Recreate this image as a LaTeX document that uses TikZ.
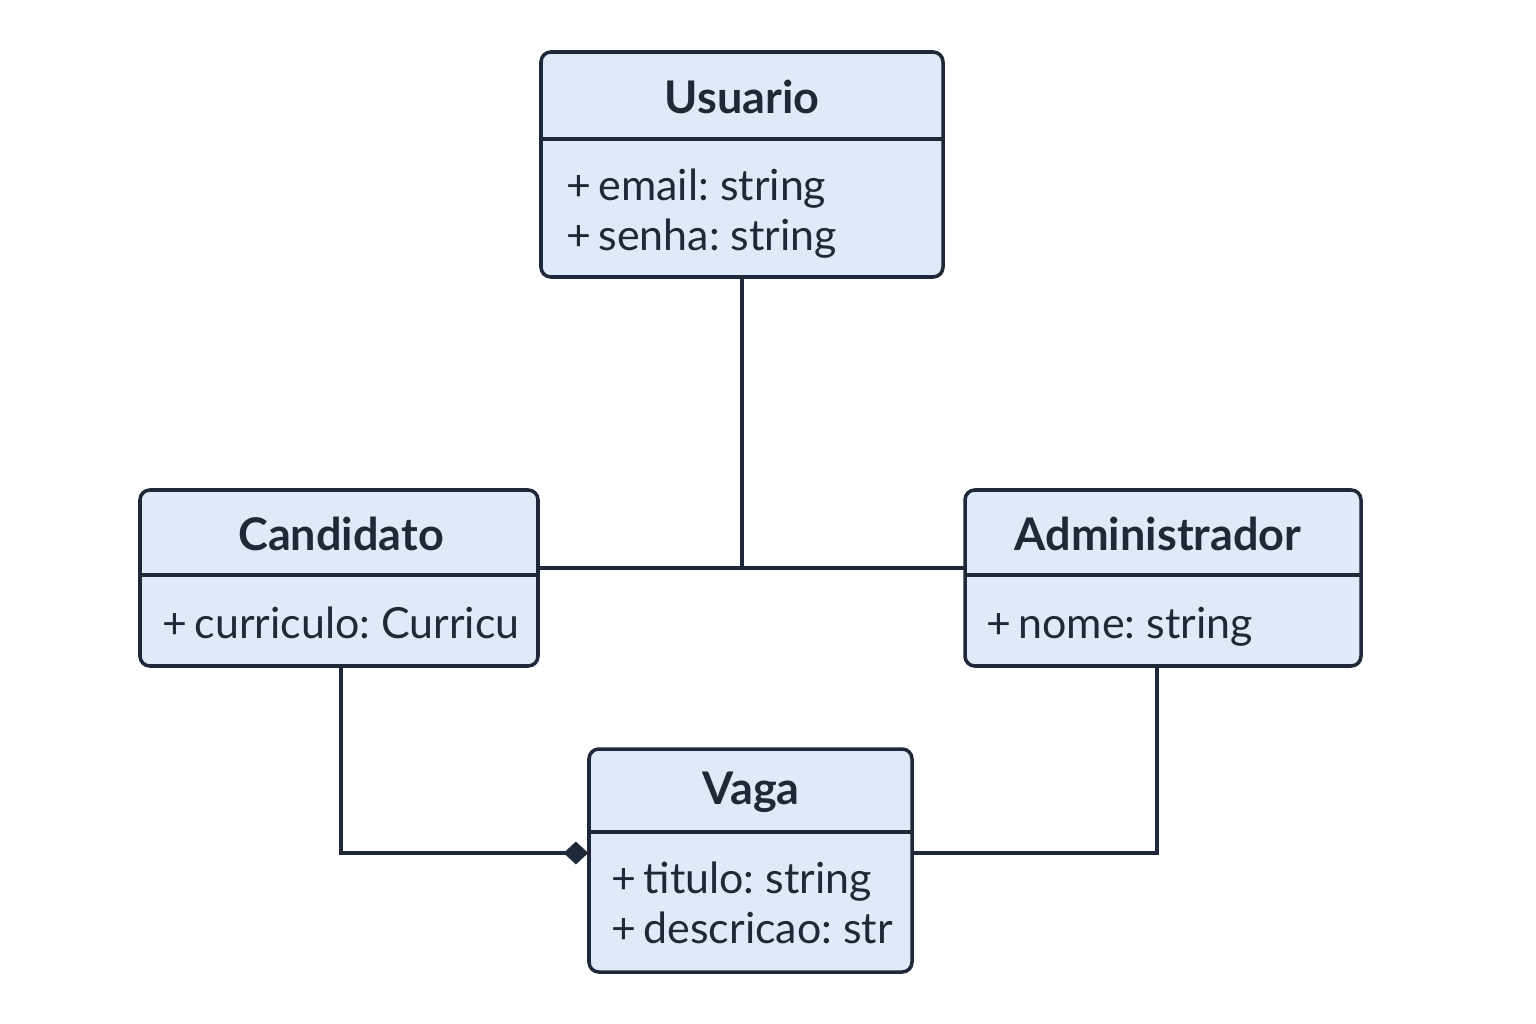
\documentclass[tikz,border=0pt]{standalone}
\usepackage{fontspec}
\setmainfont{Lato}
\usetikzlibrary{arrows.meta}
\definecolor{ink}{HTML}{1E2838}
\definecolor{boxfill}{HTML}{DEEAF9}
\tikzset{
  umlbox/.style={draw=ink, fill=boxfill, line width=1pt, rounded corners=2.8pt, inner sep=0pt},
  title/.style={font=\fontsize{12.8}{14}\selectfont\bfseries, text=ink, inner sep=0pt},
  attr/.style={font=\fontsize{12.2}{14}\selectfont, text=ink, anchor=base west, inner sep=0pt},
  divider/.style={draw=ink, line width=1pt},
  conn/.style={draw=ink, line width=0.95pt},
  comp/.style={-{Diamond[length=7pt,width=6.5pt,fill=ink]}, draw=ink, line width=0.95pt}
}
\begin{document}
\frenchspacing
\begin{tikzpicture}[x=0.01cm,y=-0.01cm]
\useasboundingbox (0,0) rectangle (1536,1024);
% boxes
\path[umlbox] (541,52) rectangle (943,277);
\path[umlbox] (140,490) rectangle (538,666);
\path[umlbox] (965,490) rectangle (1361,666);
\path[umlbox] (589,749) rectangle (912,972);
% named anchors
\node[inner sep=0pt, minimum width=4.02cm, minimum height=2.25cm] (usuario) at (742,164.5) {};
\node[inner sep=0pt, minimum width=3.98cm, minimum height=1.76cm] (candidato) at (339,578) {};
\node[inner sep=0pt, minimum width=3.96cm, minimum height=1.76cm] (admin) at (1163,578) {};
\node[inner sep=0pt, minimum width=3.23cm, minimum height=2.23cm] (vaga) at (750.5,860.5) {};
% dividers
\draw[divider] (541,139) -- (943,139);
\draw[divider] (140,575) -- (538,575);
\draw[divider] (965,575) -- (1361,575);
\draw[divider] (589,832) -- (912,832);
% titles
\node[title] (t1) at (742,97) {Usuario};
\node[title] (t2) at (341,534) {Candidato};
\node[title] (t3) at (1158,534) {Administrador};
\node[title] (t4) at (751,792) {Vaga};
% attributes
\node[attr] (a1) at (566,200) {+\,email: string};
\node[attr] (a2) at (566,250) {+\,senha: string};
\node[attr] (a3) at (162,638) {+\,curriculo: Curricu};
\node[attr] (a4) at (986,638) {+\,nome: string};
\node[attr] (a5) at (611,893) {+\,titulo: string};
\node[attr] (a6) at (611,943) {+\,descricao: str};
% connectors
\coordinate (junction) at (742,568);
\draw[conn] (usuario.south -| junction) -- (junction);
\draw[conn] (candidato.east |- junction) -- (admin.west |- junction);
\coordinate (cbend) at (341,853);
\draw[comp] (candidato.south -| cbend) -- (cbend) -- (vaga.west |- cbend);
\coordinate (abend) at (1157,853);
\draw[conn] (vaga.east |- abend) -- (abend) -- (admin.south -| abend);
\end{tikzpicture}
\end{document}
